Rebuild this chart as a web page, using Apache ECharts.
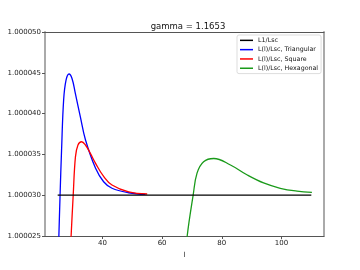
<!DOCTYPE html>
<html><head><meta charset="utf-8">
<script src="https://cdn.jsdelivr.net/npm/echarts@6/dist/echarts.min.js"></script>
<style>html,body{margin:0;padding:0;background:#fff}#c{width:360px;height:270px}</style>
</head><body><div id="c"></div>
<script>
// values stored as offset above 1, in units of 1e-6
const blackLine = [[25, 30], [110, 30]];
const triangular = [[25.0,20],[25.4,25],[25.8,30],[26.3,35.5],[27.0,41.7],[27.8,44.1],[28.8,44.85],[29.8,44.3],[30.9,42.5],[32.6,39.6],[34.3,36.8],[37.7,33.3],[40.4,31.65],[43.2,30.85],[48.8,30.3],[54.4,30.1]];
const square = [[29.0,21],[29.5,25],[30.2,30],[30.95,34.7],[31.8,36.15],[33.0,36.55],[34.3,36.15],[36.0,35.1],[37.7,33.9],[40.4,32.3],[43.2,31.25],[48.8,30.4],[55.0,30.15]];
const hexagonal = [[67.5,21],[68.4,25],[70.4,30],[71.7,32.7],[73.9,34.1],[77.3,34.5],[82.9,33.7],[88.4,32.5],[94.0,31.5],[99.6,30.85],[105.2,30.5],[110.2,30.35]];
const xTicks = [40, 60, 80, 100];
const yTicks = [25, 30, 35, 40, 45, 50];
const names = ['L1/Lsc', 'L(l)/Lsc, Triangular', 'L(l)/Lsc, Square', 'L(l)/Lsc, Hexagonal'];
const titleText = 'gamma = 1.1653';

const toVal = arr => arr.map(p => [p[0], 1 + p[1] * 1e-6]);
const yVals = yTicks.map(v => 1 + v * 1e-6);
const font = 'DejaVu Sans';

const chart = echarts.init(document.getElementById('c'), null, {renderer: 'canvas'});
const curve = (i, data, color) => ({
  name: names[i], type: 'line', data: toVal(data), smooth: 0.4, symbol: 'none',
  lineStyle: {color: color, width: 1.3}, itemStyle: {color: color}, clip: true
});
chart.setOption({
  animation: false,
  backgroundColor: '#fff',
  title: {text: titleText, left: 183, top: 17, textAlign: 'center',
    textStyle: {fontFamily: font, fontSize: 8.5, fontWeight: 'normal', color: '#111'}},
  grid: {left: 45, right: 36, top: 32, bottom: 34, containLabel: false},
  legend: {
    orient: 'vertical', left: 237, top: 35, data: names,
    icon: 'rect', itemWidth: 13, itemHeight: 1.5, itemGap: 2.6,
    backgroundColor: '#fff', borderColor: '#ddd', borderWidth: 1, borderRadius: 2,
    padding: [2, 3, 2, 3],
    textStyle: {fontFamily: font, fontSize: 6.3, color: '#111', lineHeight: 6.7}
  },
  xAxis: [{
    type: 'value', min: 20.75, max: 114.25, position: 'bottom',
    name: 'l', nameLocation: 'middle', nameGap: 13,
    nameTextStyle: {fontFamily: font, fontSize: 7, color: '#111'},
    axisLine: {show: true, lineStyle: {color: '#555', width: 1}},
    axisTick: {show: true, length: 3, customValues: xTicks, lineStyle: {color: '#555'}},
    axisLabel: {customValues: xTicks, fontFamily: font, fontSize: 7, color: '#222', margin: 4},
    splitLine: {show: false}
  }, {
    type: 'value', min: 20.75, max: 114.25, position: 'top',
    axisLine: {show: true, onZero: false, lineStyle: {color: '#555', width: 1}},
    axisTick: {show: false}, axisLabel: {show: false}, splitLine: {show: false}
  }],
  yAxis: [{
    type: 'value', min: yVals[0], max: yVals[yVals.length - 1], position: 'left',
    axisLine: {show: true, lineStyle: {color: '#aaa', width: 2}},
    axisTick: {show: true, length: 3, customValues: yVals, lineStyle: {color: '#555'}},
    axisLabel: {customValues: yVals, fontFamily: font, fontSize: 7, color: '#222', margin: 4,
      formatter: v => Number(v).toFixed(6)},
    splitLine: {show: false}
  }, {
    type: 'value', min: yVals[0], max: yVals[yVals.length - 1], position: 'right',
    axisLine: {show: true, onZero: false, lineStyle: {color: '#aaa', width: 2}},
    axisTick: {show: false}, axisLabel: {show: false}, splitLine: {show: false}
  }],
  series: [
    {name: names[0], type: 'line', data: toVal(blackLine), symbol: 'none',
      lineStyle: {color: '#000', width: 1.3}, itemStyle: {color: '#000'}, clip: true, z: 5},
    curve(1, triangular, '#0000ff'),
    curve(2, square, '#ff0000'),
    curve(3, hexagonal, '#1a9a1a')
  ]
});
</script></body></html>
